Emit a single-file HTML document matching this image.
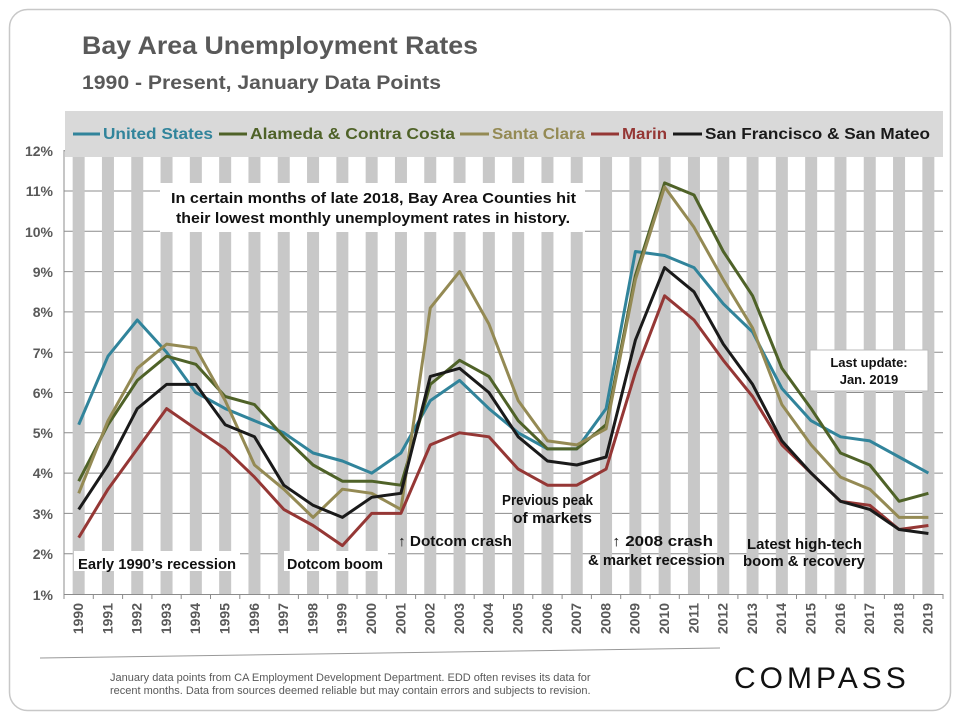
<!DOCTYPE html>
<html><head><meta charset="utf-8"><style>
body{margin:0;background:#fff;width:960px;height:720px;overflow:hidden;font-family:"Liberation Sans",Arial,sans-serif}
</style></head><body>
<svg id="s" width="960" height="720" viewBox="0 0 960 720" xmlns="http://www.w3.org/2000/svg" font-family="Liberation Sans, Arial, sans-serif">
<rect x="9.5" y="9.5" width="941" height="701" rx="18" fill="#fff" stroke="#c8c8c8" stroke-width="1.5"/>
<text x="82" y="54" font-size="25" font-weight="bold" fill="#595959" textLength="396" lengthAdjust="spacingAndGlyphs">Bay Area Unemployment Rates</text>
<text x="82" y="89" font-size="19" font-weight="bold" fill="#595959" textLength="359" lengthAdjust="spacingAndGlyphs">1990 - Present, January Data Points</text>
<g id="grid" stroke="#8c8c8c" stroke-width="1"></g>
<g id="bars" fill="#c8c8c8"></g>
<rect x="65" y="111" width="878" height="46" fill="#d9d9d9"/>
<g font-size="16" font-weight="bold" lengthAdjust="spacingAndGlyphs">
<line x1="73" y1="134" x2="100" y2="134" stroke="#31849b" stroke-width="3"/><text x="103" y="139" fill="#31849b" textLength="110" lengthAdjust="spacingAndGlyphs">United States</text>
<line x1="219" y1="134" x2="247" y2="134" stroke="#4f6228" stroke-width="3"/><text x="250" y="139" fill="#4f6228" textLength="205" lengthAdjust="spacingAndGlyphs">Alameda &amp; Contra Costa</text>
<line x1="460" y1="134" x2="489" y2="134" stroke="#948a54" stroke-width="3"/><text x="492" y="139" fill="#948a54" textLength="93" lengthAdjust="spacingAndGlyphs">Santa Clara</text>
<line x1="591" y1="134" x2="619" y2="134" stroke="#953735" stroke-width="3"/><text x="622" y="139" fill="#953735" textLength="45" lengthAdjust="spacingAndGlyphs">Marin</text>
<line x1="673" y1="134" x2="702" y2="134" stroke="#1a1a1a" stroke-width="3"/><text x="705" y="139" fill="#1a1a1a" textLength="225" lengthAdjust="spacingAndGlyphs">San Francisco &amp; San Mateo</text>
</g>
<rect x="160" y="183" width="425" height="49" fill="#fff"/>
<g font-size="15" font-weight="bold" fill="#111">
<text x="171" y="203" textLength="405" lengthAdjust="spacingAndGlyphs">In certain months of late 2018, Bay Area Counties hit</text>
<text x="176" y="223" textLength="394" lengthAdjust="spacingAndGlyphs">their lowest monthly unemployment rates in history.</text>
</g>
<rect x="810" y="350" width="118" height="41" fill="#fff" stroke="#bbb"/>
<g font-size="13" font-weight="bold" fill="#111" text-anchor="middle">
<text x="869" y="367">Last update:</text><text x="869" y="384">Jan. 2019</text>
</g>
<g id="lines" fill="none" stroke-width="3" stroke-linejoin="round"></g>
<line x1="64" y1="150" x2="64" y2="595" stroke="#8c8c8c"/>
<line x1="64" y1="594.5" x2="943" y2="594.5" stroke="#8c8c8c"/>
<g id="xt" stroke="#8c8c8c"></g>
<g font-size="14" font-weight="bold" fill="#595959" text-anchor="end">
<text x="53" y="156">12%</text><text x="53" y="196">11%</text><text x="53" y="237">10%</text><text x="53" y="277">9%</text><text x="53" y="317">8%</text><text x="53" y="358">7%</text><text x="53" y="398">6%</text><text x="53" y="438">5%</text><text x="53" y="478">4%</text><text x="53" y="519">3%</text><text x="53" y="559">2%</text><text x="53" y="600">1%</text>
</g>
<g font-size="14" font-weight="bold" fill="#595959" text-anchor="end">
<text transform="translate(83,603) rotate(-90)">1990</text><text transform="translate(112.3,603) rotate(-90)">1991</text><text transform="translate(141.6,603) rotate(-90)">1992</text><text transform="translate(170.9,603) rotate(-90)">1993</text><text transform="translate(200.2,603) rotate(-90)">1994</text><text transform="translate(229.5,603) rotate(-90)">1995</text><text transform="translate(258.8,603) rotate(-90)">1996</text><text transform="translate(288.1,603) rotate(-90)">1997</text><text transform="translate(317.4,603) rotate(-90)">1998</text><text transform="translate(346.7,603) rotate(-90)">1999</text><text transform="translate(376,603) rotate(-90)">2000</text><text transform="translate(405.3,603) rotate(-90)">2001</text><text transform="translate(434.6,603) rotate(-90)">2002</text><text transform="translate(463.9,603) rotate(-90)">2003</text><text transform="translate(493.2,603) rotate(-90)">2004</text><text transform="translate(522.5,603) rotate(-90)">2005</text><text transform="translate(551.8,603) rotate(-90)">2006</text><text transform="translate(581.1,603) rotate(-90)">2007</text><text transform="translate(610.4,603) rotate(-90)">2008</text><text transform="translate(639.7,603) rotate(-90)">2009</text><text transform="translate(669,603) rotate(-90)">2010</text><text transform="translate(698.3,603) rotate(-90)">2011</text><text transform="translate(727.6,603) rotate(-90)">2012</text><text transform="translate(756.9,603) rotate(-90)">2013</text><text transform="translate(786.2,603) rotate(-90)">2014</text><text transform="translate(815.5,603) rotate(-90)">2015</text><text transform="translate(844.8,603) rotate(-90)">2016</text><text transform="translate(874.1,603) rotate(-90)">2017</text><text transform="translate(903.4,603) rotate(-90)">2018</text><text transform="translate(932.7,603) rotate(-90)">2019</text>
</g>
<g font-size="14.5" font-weight="bold" fill="#111">
<rect x="74" y="551" width="166" height="20" fill="#fff"/><text x="78" y="569" textLength="158" lengthAdjust="spacingAndGlyphs">Early 1990’s recession</text>
<rect x="284" y="551" width="104" height="20" fill="#fff"/><text x="287" y="569" textLength="96" lengthAdjust="spacingAndGlyphs">Dotcom boom</text>
<text x="398" y="546" textLength="114" lengthAdjust="spacingAndGlyphs">↑ Dotcom crash</text>
<text x="502" y="505" textLength="91" lengthAdjust="spacingAndGlyphs">Previous peak</text><text x="513" y="523" textLength="79" lengthAdjust="spacingAndGlyphs">of  markets</text>
<text x="612" y="546" textLength="101" lengthAdjust="spacingAndGlyphs">↑ 2008 crash</text><text x="588" y="565" textLength="137" lengthAdjust="spacingAndGlyphs">&amp; market recession</text>
<text x="747" y="549" textLength="115" lengthAdjust="spacingAndGlyphs">Latest high-tech</text><text x="743" y="566" textLength="122" lengthAdjust="spacingAndGlyphs">boom &amp; recovery</text>
</g>
<path d="M40 658 L720 648" stroke="#999" stroke-width="1"/>
<g font-size="11" fill="#595959"><text x="110" y="681">January data points from CA Employment Development Department. EDD often revises its data for</text><text x="110" y="694">recent months. Data from sources deemed reliable but may contain errors and subjects to revision.</text></g>
<text x="734" y="688" font-size="30" fill="#111" letter-spacing="4">COMPASS</text>
</svg>
<script>
var NS="http://www.w3.org/2000/svg",s=document.getElementById('s');
function el(p,t,a){var e=document.createElementNS(NS,t);for(var k in a)e.setAttribute(k,a[k]);document.getElementById(p).appendChild(e);}
var W=29.3,X0=64;function cx(i){return X0+W*(i+0.5);}function cy(v){return 594-(v-1)*40.3;}
for(var v=2;v<=12;v++)el('grid','line',{x1:64,x2:943,y1:cy(v),y2:cy(v)});
for(var i=0;i<30;i++){el('bars','rect',{x:cx(i)-6,y:150,width:12,height:444});el('xt','line',{x1:X0+W*i,x2:X0+W*i,y1:594,y2:599});}
el('xt','line',{x1:943,x2:943,y1:594,y2:599});
var D=[["#31849b",[5.2,6.9,7.8,7.0,6.0,5.6,5.3,5.0,4.5,4.3,4.0,4.5,5.8,6.3,5.6,5.0,4.6,4.6,5.6,9.5,9.4,9.1,8.2,7.5,6.1,5.3,4.9,4.8,4.4,4.0]],
["#4f6228",[3.8,5.2,6.3,6.9,6.7,5.9,5.7,4.9,4.2,3.8,3.8,3.7,6.2,6.8,6.4,5.3,4.6,4.6,5.2,8.9,11.2,10.9,9.5,8.4,6.6,5.6,4.5,4.2,3.3,3.5]],
["#948a54",[3.5,5.3,6.6,7.2,7.1,5.8,4.2,3.6,2.9,3.6,3.5,3.1,8.1,9.0,7.7,5.8,4.8,4.7,5.1,8.8,11.1,10.1,8.8,7.6,5.7,4.7,3.9,3.6,2.9,2.9]],
["#953735",[2.4,3.6,4.6,5.6,5.1,4.6,3.9,3.1,2.7,2.2,3.0,3.0,4.7,5.0,4.9,4.1,3.7,3.7,4.1,6.5,8.4,7.8,6.8,5.9,4.7,4.0,3.3,3.2,2.6,2.7]],
["#1a1a1a",[3.1,4.2,5.6,6.2,6.2,5.2,4.9,3.7,3.2,2.9,3.4,3.5,6.4,6.6,6.0,4.9,4.3,4.2,4.4,7.3,9.1,8.5,7.2,6.2,4.8,4.0,3.3,3.1,2.6,2.5]]];
D.forEach(function(d){el('lines','polyline',{stroke:d[0],points:d[1].map(function(v,i){return cx(i).toFixed(1)+','+cy(v).toFixed(1)}).join(' ')});});
</script>
</body></html>
